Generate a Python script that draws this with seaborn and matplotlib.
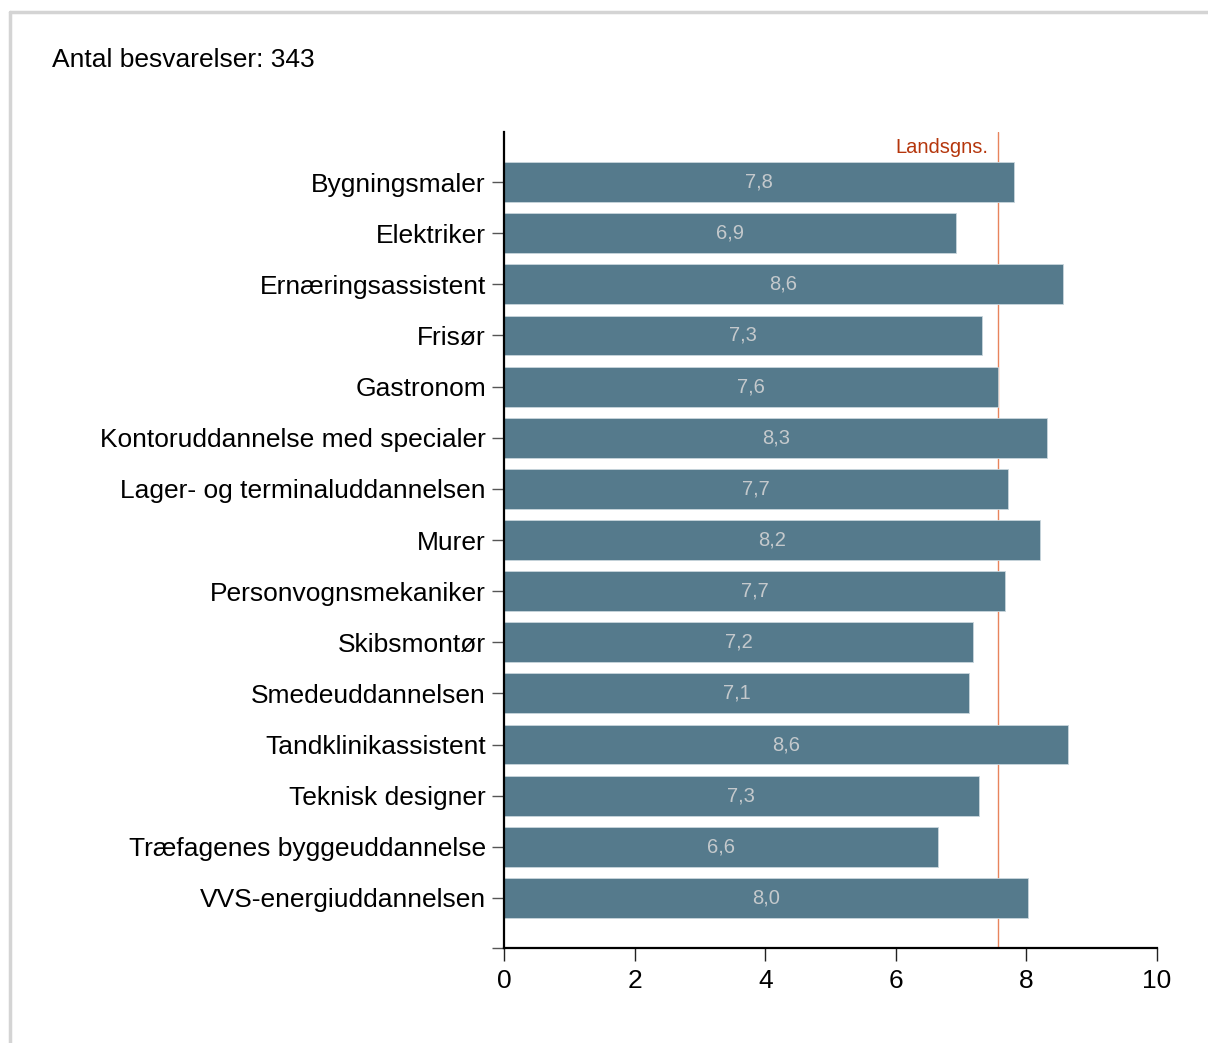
import matplotlib
matplotlib.use('Agg')
import matplotlib.pyplot as plt
import seaborn as sns
import pandas as pd

# data
categories = ['Bygningsmaler', 'Elektriker', 'Ernæringsassistent', 'Frisør',
              'Gastronom', 'Kontoruddannelse med specialer',
              'Lager- og terminaluddannelsen', 'Murer', 'Personvognsmekaniker',
              'Skibsmontør', 'Smedeuddannelsen', 'Tandklinikassistent',
              'Teknisk designer', 'Træfagenes byggeuddannelse',
              'VVS-energiuddannelsen']
values = [7.81, 6.92, 8.56, 7.32, 7.57, 8.32, 7.72, 8.21, 7.67, 7.18, 7.12,
          8.64, 7.27, 6.64, 8.02]
national_avg = 7.57
n_answers = 343
x_ticks = [0, 2, 4, 6, 8, 10]

df = pd.DataFrame({'kategori': categories, 'score': values})

sns.set_style('white')
plt.rcParams['font.family'] = ['Liberation Sans', 'DejaVu Sans']
plt.rcParams['text.color'] = 'black'
plt.rcParams['xtick.color'] = 'black'
plt.rcParams['ytick.color'] = 'black'

fig = plt.figure(figsize=(12.08, 10.43), dpi=100)
ax = fig.add_axes([504 / 1208, 1 - 948 / 1043, (1157 - 504) / 1208, (948 - 132) / 1043])

sns.barplot(data=df, x='score', y='kategori', color='#557a8c', saturation=1,
            width=0.78, edgecolor='#c9d6dc', linewidth=0.6, ax=ax)

# value labels inside bars
for i, v in enumerate(values):
    ax.text(v / 2, i, f'{v:.1f}'.replace('.', ','), ha='center', va='center',
            color='#c4c9cc', fontsize=14.5)

# national average line
ax.axvline(national_avg, color='#e8845c', lw=1, zorder=0.5)
ax.text(national_avg - 0.15, -0.68, 'Landsgns.', ha='right', va='center',
        color='#b5360c', fontsize=14.5)

ax.set_xlim(0, 10)
ax.set_ylim(len(categories) - 0.02, -0.98)
ax.set_xticks(x_ticks)
ax.set_xticklabels([str(t) for t in x_ticks])
ax.set_yticks(list(range(len(categories))) + [len(categories) - 0.02])
ax.set_yticklabels(categories + [''])
ax.set_xlabel('')
ax.set_ylabel('')

for side in ['top', 'right']:
    ax.spines[side].set_visible(False)
for side in ['left', 'bottom']:
    ax.spines[side].set_color('black')
    ax.spines[side].set_linewidth(1.6)

ax.tick_params(axis='y', length=9, width=1, color='#555555', labelsize=19,
               labelcolor='black', pad=4, left=True)
ax.tick_params(axis='x', length=9, width=1, color='#222222', labelsize=19,
               labelcolor='black', pad=6, bottom=True)

# title
fig.text(52 / 1208, 1 - 60 / 1043, f'Antal besvarelser: {n_answers}',
         ha='left', va='center', fontsize=19, color='black')

# outer frame
fig.add_artist(plt.Line2D([10 / 1208, 10 / 1208], [0, 1 - 12 / 1043],
                          transform=fig.transFigure, color='#d4d4d4', lw=2.5))
fig.add_artist(plt.Line2D([10 / 1208, 1], [1 - 12 / 1043, 1 - 12 / 1043],
                          transform=fig.transFigure, color='#d4d4d4', lw=2.5))

fig.savefig('out.png', dpi=100)
